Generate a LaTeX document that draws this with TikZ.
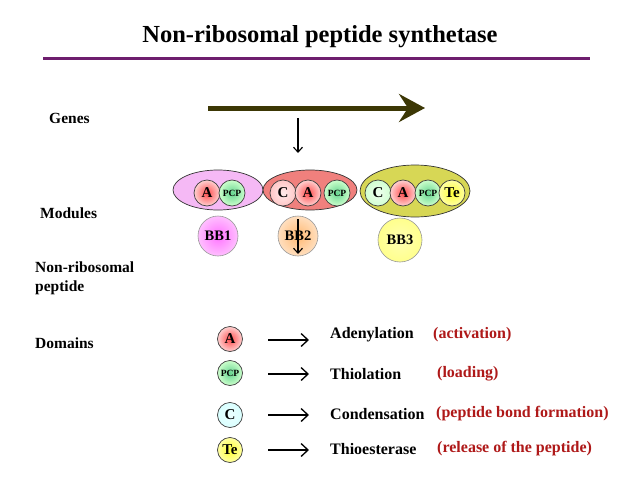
\documentclass[tikz,border=0pt]{standalone}
\usepackage{fontspec}
\setmainfont{Liberation Serif}
\usetikzlibrary{shapes.geometric,arrows.meta}
\definecolor{titleline}{RGB}{110,30,110}
\definecolor{olivearrow}{RGB}{60,55,5}
\definecolor{redtxt}{RGB}{175,25,25}
\definecolor{ellpink}{RGB}{245,185,245}
\definecolor{ellred}{RGB}{240,128,125}
\definecolor{ellyel}{RGB}{215,215,85}
\tikzset{
  x=1pt,y=-1pt,
  lbl/.style={font=\fontsize{15.5}{19}\selectfont\bfseries, anchor=west, inner sep=0pt, align=left},
  deftxt/.style={font=\fontsize{16}{19}\selectfont\bfseries, anchor=west, inner sep=0pt},
  redlbl/.style={deftxt, text=redtxt},
  modell/.style={ellipse, draw=black!80, line width=0.7pt, inner sep=0pt},
  dom/.style={circle, draw=black!75, line width=0.7pt, inner sep=0pt, minimum size=26pt, font=\fontsize{15}{16}\selectfont\bfseries},
  domsmall/.style={dom, font=\fontsize{9.5}{10}\selectfont\bfseries},
  legdom/.style={dom, minimum size=25pt},
  legsmall/.style={domsmall, minimum size=25pt},
  dA/.style={shading=radial, inner color=red!70!white, outer color=red!18!white},
  dPCP/.style={shading=radial, inner color=green!45!teal!60!white, outer color=green!20!white},
  dC/.style={shading=radial, inner color=cyan!8!white, outer color=cyan!15!white},
  dCr/.style={shading=radial, inner color=red!8!white, outer color=red!22!white},
  dCy/.style={shading=radial, inner color=green!6!white, outer color=green!18!white},
  dTe/.style={shading=radial, inner color=yellow!80!white, outer color=yellow!35!white},
  bb/.style={circle, draw=black!40, line width=0.6pt, inner sep=0pt, font=\fontsize{14.5}{16}\selectfont\bfseries},
  legarrow/.style={line width=1.3pt, -{Straight Barb[length=7pt,width=13pt,line width=1.3pt]}},
  smallarrow/.style={line width=1.2pt, -{Straight Barb[length=5pt,width=9pt,line width=1.1pt]}},
}
\begin{document}
\begin{tikzpicture}
\useasboundingbox (0,0) rectangle (638,479);
\fill[white] (0,0) rectangle (638,479);

% title
\node[font=\fontsize{24.5}{28}\selectfont\bfseries, inner sep=0pt] (title) at (320,37) {Non-ribosomal peptide synthetase};
\coordinate (tl) at (43,58);
\coordinate (tr) at (590,58);
\draw[titleline, line width=3pt] (tl) -- (tr);

% left labels
\node[lbl] (genes) at (49,118) {Genes};
\node[lbl] (modules) at (40,213) {Modules};
\node[lbl] (nrp) at (35,278) {Non-ribosomal\\peptide};
\node[lbl] (domains) at (35,343) {Domains};

% gene arrow
\coordinate (g1) at (208,108);
\coordinate (g2) at (425,108);
\draw[olivearrow, line width=5pt, -{Stealth[length=26pt,width=28pt,inset=9pt]}] (g1) -- (g2);
\coordinate (s1) at (298,118);
\coordinate (s2) at (298,153);
\draw[smallarrow] (s1) -- (s2);

% modules
\node[modell, fill=ellpink, minimum width=90pt, minimum height=40pt] (m1) at (218,190) {};
\node[modell, fill=ellred, minimum width=94pt, minimum height=40pt] (m2) at (310,190) {};
\node[modell, fill=ellyel, minimum width=110pt, minimum height=52pt] (m3) at (415,191) {};

\node[dom, dA] (m1A) at (207,193) {A};
\node[domsmall, dPCP] (m1P) at (232,193) {PCP};

\node[dom, dCr] (m2C) at (283,193) {C};
\node[dom, dA] (m2A) at (308,193) {A};
\node[domsmall, dPCP] (m2P) at (337,193) {PCP};

\node[dom, dCy] (m3C) at (378,193) {C};
\node[dom, dA] (m3A) at (403,193) {A};
\node[domsmall, dPCP] (m3P) at (428,193) {PCP};
\node[dom, dTe] (m3T) at (452,193) {Te};

% building blocks
\node[bb, minimum size=40pt, shading=radial, inner color=magenta!55!white, outer color=magenta!25!white] (bb1) at (218,236) {BB1};
\node[bb, minimum size=40pt, shading=radial, inner color=orange!55!white, outer color=orange!25!white] (bb2) at (298,236) {BB2};
\node[bb, minimum size=44pt, shading=radial, inner color=yellow!30!white, outer color=yellow!45!white] (bb3) at (400,240) {BB3};
\coordinate (b1) at (298,219);
\coordinate (b2) at (298,254);
\draw[smallarrow] (b1) -- (b2);

% legend
\node[legdom, dA] (lA) at (230,339) {A};
\node[legsmall, dPCP] (lP) at (230,373) {PCP};
\node[legdom, dC] (lC) at (230,415) {C};
\node[legdom, dTe] (lT) at (230,450) {Te};

\coordinate (a1s) at (268,340); \coordinate (a1e) at (309,340);
\coordinate (a2s) at (268,374); \coordinate (a2e) at (309,374);
\coordinate (a3s) at (268,415); \coordinate (a3e) at (309,415);
\coordinate (a4s) at (268,450); \coordinate (a4e) at (309,450);
\draw[legarrow] (a1s) -- (a1e);
\draw[legarrow] (a2s) -- (a2e);
\draw[legarrow] (a3s) -- (a3e);
\draw[legarrow] (a4s) -- (a4e);

\node[deftxt] (t1) at (330,335) {Adenylation};
\node[deftxt] (t2) at (330,374) {Thiolation};
\node[deftxt] (t3) at (330,414) {Condensation};
\node[deftxt] (t4) at (330,449) {Thioesterase};

\node[redlbl] (r1) at (433,335) {(activation)};
\node[redlbl] (r2) at (437,374) {(loading)};
\node[redlbl] (r3) at (436,414) {(peptide bond formation)};
\node[redlbl] (r4) at (437,449) {(release of the peptide)};
\end{tikzpicture}
\end{document}
